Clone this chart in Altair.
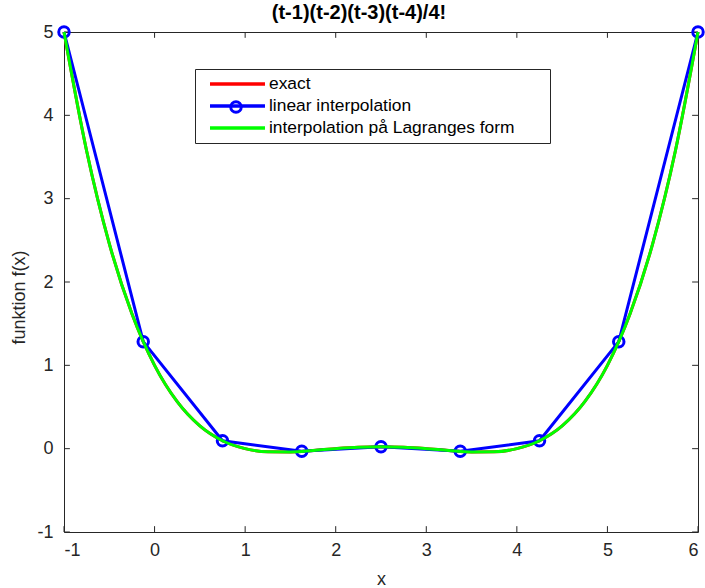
import altair as alt
import pandas as pd

t_fine = [-1.0, -0.75, -0.5, -0.25, 0.0, 0.25, 0.5, 0.75, 1.0, 1.25, 1.5, 1.75, 2.0, 2.25,
          2.5, 2.75, 3.0, 3.25, 3.5, 3.75, 4.0, 4.25, 4.5, 4.75, 5.0, 5.25, 5.5, 5.75, 6.0]
f_exact = [5.0, 3.5718, 2.4609, 1.6187, 1.0, 0.5640, 0.2734, 0.0952, 0.0, -0.0376, -0.0391,
           -0.0220, 0.0, 0.0171, 0.0234, 0.0171, 0.0, -0.0220, -0.0391, -0.0376, 0.0, 0.0952,
           0.2734, 0.5640, 1.0, 1.6187, 2.4609, 3.5718, 5.0]
f_lagrange = [5.0, 3.5718, 2.4609, 1.6187, 1.0, 0.5640, 0.2734, 0.0952, 0.0, -0.0376, -0.0391,
              -0.0220, 0.0, 0.0171, 0.0234, 0.0171, 0.0, -0.0220, -0.0391, -0.0376, 0.0, 0.0952,
              0.2734, 0.5640, 1.0, 1.6187, 2.4609, 3.5718, 5.0]
# interpolation nodes
t_nodes = [-1.0, -0.125, 0.75, 1.625, 2.5, 3.375, 4.25, 5.125, 6.0]
f_nodes = [5.0, 1.284, 0.0952, -0.0319, 0.0234, -0.0319, 0.0952, 1.284, 5.0]

series_names = ["exact", "linear interpolation", "interpolation på Lagranges form"]
series_colors = ["#ff0000", "#0000ff", "#00ff00"]
x_ticks = [-1, 0, 1, 2, 3, 4, 5, 6]
y_ticks = [-1, 0, 1, 2, 3, 4, 5]

FONT = "Liberation Sans"
BLANK_PAD = "\u00a0" + "\u2800" * 2

df_exact = pd.DataFrame({"t": t_fine, "f": f_exact, "series": series_names[0]})
df_lin = pd.DataFrame({"t": t_nodes, "f": f_nodes, "series": series_names[1]})
df_lag = pd.DataFrame({"t": t_fine, "f": f_lagrange, "series": series_names[2]})
df_mark = pd.DataFrame({"t": t_nodes, "f": f_nodes, "marker": series_names[1]})

xs = alt.Scale(domain=[-1, 6], nice=False, zero=False)
ys = alt.Scale(domain=[-1, 5], nice=False, zero=False)

color = alt.Color(
    "series:N",
    scale=alt.Scale(domain=series_names, range=series_colors),
    sort=series_names,
    legend=alt.Legend(
        orient="none", legendX=131, legendY=37, title=None,
        symbolType="M0,0H8", symbolSize=189, symbolStrokeWidth=3.5,
        labelFont=FONT, labelFontSize=17.4, labelColor="#000000", labelOffset=50,
        labelLimit=600, labelExpr="datum.label + '" + BLANK_PAD + "'",
        strokeColor="#262626", fillColor="#ffffff", padding=6, rowPadding=4,
    ),
)

x_enc = alt.X("t:Q", scale=xs, axis=alt.Axis(
    values=x_ticks, labelExpr="'' + datum.value", title="x", tickSize=0, domain=False,
    grid=False, labelPadding=9, titlePadding=11))
y_enc = alt.Y("f:Q", scale=ys, axis=alt.Axis(
    values=y_ticks, labelExpr="'' + datum.value", title="funktion f(x)", tickSize=0,
    domain=False, grid=False, labelPadding=11, titlePadding=8, titleY=265))

exact_line = alt.Chart(df_exact).mark_line(strokeWidth=3, interpolate="monotone").encode(
    x=x_enc, y=y_enc, color=color)
lin_line = alt.Chart(df_lin).mark_line(strokeWidth=3).encode(
    x="t:Q", y="f:Q", color=color)
lin_pts = alt.Chart(df_mark).mark_point(
    filled=False, size=110, strokeWidth=3, color="#0000ff", opacity=1).encode(
    x="t:Q", y="f:Q",
    shape=alt.Shape("marker:N", scale=alt.Scale(domain=[series_names[1]], range=["circle"]),
                    legend=alt.Legend(orient="none", legendX=165, legendY=68, title=None,
                                      labelExpr="''", padding=0, symbolStrokeColor="#0000ff",
                                      symbolStrokeWidth=3, symbolSize=110,
                                      symbolFillColor="transparent")))
lag_line = alt.Chart(df_lag).mark_line(strokeWidth=3, interpolate="monotone").encode(
    x="t:Q", y="f:Q", color=color)

# inward ticks on all four sides of the box
tx = pd.DataFrame({"v": x_ticks})
ty = pd.DataFrame({"v": y_ticks})
tick_style = dict(color="#262626", strokeWidth=1)
bot = alt.Chart(tx).transform_calculate(a="-1", b="-1 + 0.07").mark_rule(**tick_style).encode(
    x="v:Q", y="a:Q", y2="b:Q")
top = alt.Chart(tx).transform_calculate(a="5", b="5 - 0.07").mark_rule(**tick_style).encode(
    x="v:Q", y="a:Q", y2="b:Q")
left = alt.Chart(ty).transform_calculate(a="-1", b="-1 + 0.065").mark_rule(**tick_style).encode(
    y="v:Q", x="a:Q", x2="b:Q")
right = alt.Chart(ty).transform_calculate(a="6", b="6 - 0.065").mark_rule(**tick_style).encode(
    y="v:Q", x="a:Q", x2="b:Q")

chart = alt.layer(
    exact_line, bot, top, left, right, lin_line, lin_pts, lag_line
).resolve_legend(shape="independent").properties(
    width=634, height=500,
    title=alt.TitleParams("(t-1)(t-2)(t-3)(t-4)/4!", font=FONT, fontSize=20,
                          fontWeight="bold", color="#000000", anchor="middle",
                          frame="group", offset=1, dx=-22, dy=3),
    autosize=alt.AutoSizeParams(type="none"),
    padding={"left": 64, "top": 32, "right": 7, "bottom": 56},
    background="#ffffff",
).configure_view(
    stroke="#262626", strokeWidth=1
).configure_axis(
    labelFont=FONT, labelFontSize=18, labelColor="#262626",
    titleFont=FONT, titleFontSize=18, titleColor="#262626", titleFontWeight="normal",
)

chart.save("out.html", embed_options={"renderer": "svg", "actions": False})
